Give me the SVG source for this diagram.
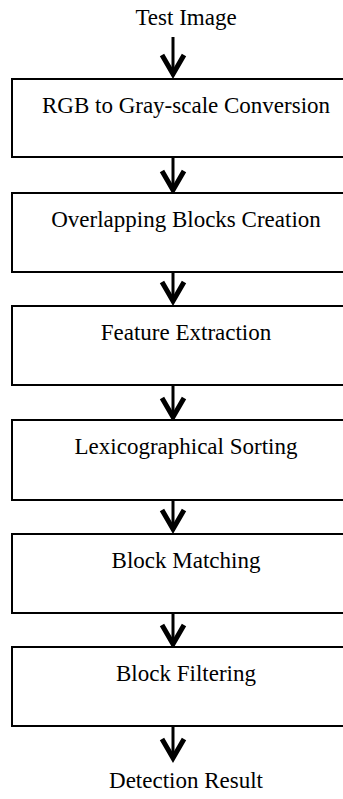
<svg xmlns="http://www.w3.org/2000/svg" width="343" height="799" viewBox="0 0 343 799">
<style>
.box{fill:#fff;stroke:#000;stroke-width:2}
.t{font-size:23px;fill:#000;text-anchor:middle}
.stem{stroke:#000;stroke-width:3;fill:none}
.head{stroke:#000;stroke-width:5;fill:none;stroke-linejoin:miter;stroke-linecap:butt}
</style>
<rect width="343" height="799" fill="#fff"/>
<g font-family="Liberation Serif, Times New Roman, DejaVu Serif, serif">
<text class="t" x="186" y="25">Test Image</text>
<g id="connectors">
<path class="stem" d="M173 37V76"/><path class="head" d="M162 55L173 74L184 55"/>
<path class="stem" d="M173 157V190"/><path class="head" d="M162 171L173 190L184 171"/>
<path class="stem" d="M173 272V301"/><path class="head" d="M162 282L173 301L184 282"/>
<path class="stem" d="M173 383V417"/><path class="head" d="M162 398L173 417L184 398"/>
<path class="stem" d="M173 500V529"/><path class="head" d="M162 510L173 529L184 510"/>
<path class="stem" d="M173 612V644"/><path class="head" d="M162 625L173 644L184 625"/>
<path class="stem" d="M173 726V758"/><path class="head" d="M162 739L173 758L184 739"/>
</g>
<g id="n1"><rect class="box" x="12" y="79" width="350" height="78"/><text class="t" x="186" y="113">RGB to Gray-scale Conversion</text></g>
<g id="n2"><rect class="box" x="12" y="193" width="350" height="79"/><text class="t" x="186" y="227">Overlapping Blocks Creation</text></g>
<g id="n3"><rect class="box" x="12" y="306" width="350" height="79"/><text class="t" x="186" y="340">Feature Extraction</text></g>
<g id="n4"><rect class="box" x="12" y="420" width="350" height="80"/><text class="t" x="186" y="454">Lexicographical Sorting</text></g>
<g id="n5"><rect class="box" x="12" y="534" width="350" height="79"/><text class="t" x="186" y="568">Block Matching</text></g>
<g id="n6"><rect class="box" x="12" y="647" width="350" height="79"/><text class="t" x="186" y="681">Block Filtering</text></g>
<text class="t" x="186" y="788">Detection Result</text>
</g>
</svg>
